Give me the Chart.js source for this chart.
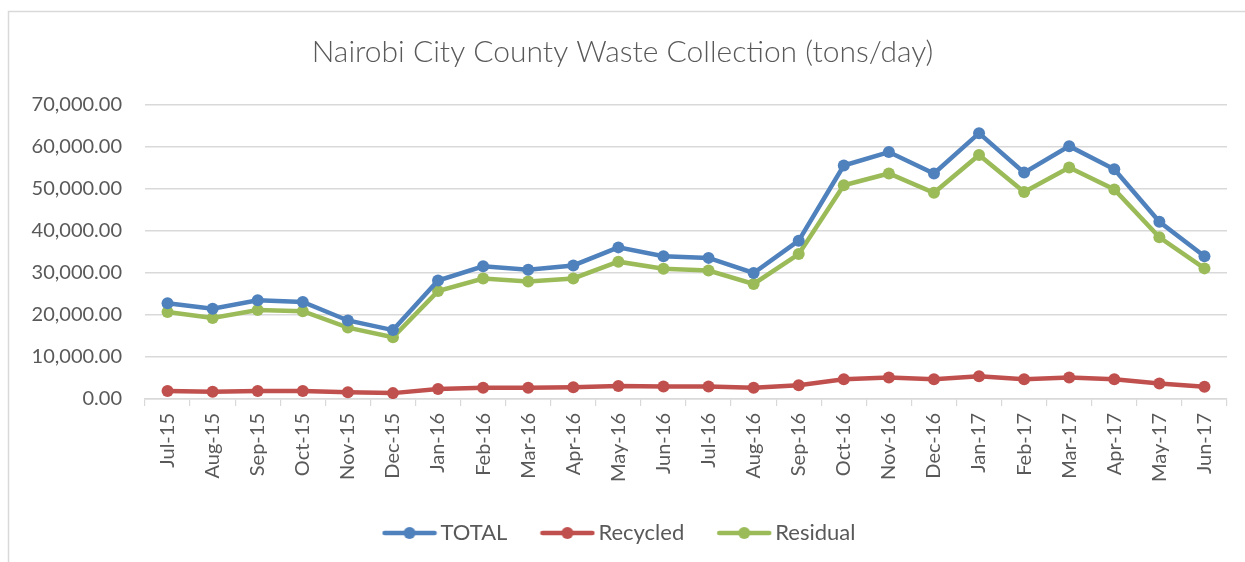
<!DOCTYPE html>
<html>
<head>
<meta charset="utf-8">
<script src="https://cdn.jsdelivr.net/npm/chart.js@4/dist/chart.umd.min.js"></script>
<style>
  html, body { margin: 0; padding: 0; background: #ffffff; }
  #wrap { position: relative; width: 1245px; height: 562px; }
</style>
</head>
<body>
<div id="wrap"><canvas id="c" width="1245" height="562"></canvas></div>
<script>
const months = ["Jul-15","Aug-15","Sep-15","Oct-15","Nov-15","Dec-15","Jan-16","Feb-16","Mar-16","Apr-16","May-16","Jun-16","Jul-16","Aug-16","Sep-16","Oct-16","Nov-16","Dec-16","Jan-17","Feb-17","Mar-17","Apr-17","May-17","Jun-17"];
const total =    [22800,21500,23500,23100,18700,16400,28200,31600,30800,31800,36100,34000,33600,30000,37700,55600,58800,53700,63300,53900,60200,54700,42200,34000];
const recycled = [1900,1700,1900,1900,1600,1400,2400,2700,2700,2800,3100,3000,3000,2700,3300,4700,5100,4700,5400,4700,5100,4700,3700,2900];
const residual = [20700,19300,21200,20900,17000,14700,25700,28700,28000,28700,32700,31000,30600,27400,34500,50900,53700,49100,58100,49300,55100,49900,38500,31100];
const seriesNames = ["TOTAL","Recycled","Residual"];
const seriesColors = ["#4F81BD","#C0504D","#9BBB59"];
const yTicks = [0,10000,20000,30000,40000,50000,60000,70000];

const FONT = "Lato, 'Open Sans', sans-serif";
const TXT = "#595959";

function legendIcon(color) {
  const cv = document.createElement('canvas');
  cv.width = 56; cv.height = 14;
  const g = cv.getContext('2d');
  g.strokeStyle = color; g.lineWidth = 4.5; g.lineCap = 'round';
  g.beginPath(); g.moveTo(3, 7); g.lineTo(53, 7); g.stroke();
  g.fillStyle = color;
  g.beginPath(); g.arc(28, 7, 6, 0, Math.PI * 2); g.fill();
  return cv;
}
const icons = seriesColors.map(legendIcon);

const framePlugin = {
  id: 'frame',
  beforeDraw(chart) {
    const ctx = chart.ctx;
    ctx.save();
    ctx.fillStyle = '#ffffff';
    ctx.fillRect(0, 0, chart.width, chart.height);
    ctx.strokeStyle = '#d9d9d9';
    ctx.lineWidth = 1.5;
    ctx.strokeRect(8.5, 11.5, 2000, 2000);
    ctx.restore();
  }
};

const data = {
  labels: months,
  datasets: [total, recycled, residual].map((arr, i) => ({
    label: seriesNames[i],
    data: arr,
    borderColor: seriesColors[i],
    backgroundColor: seriesColors[i],
    borderWidth: 4.5,
    pointRadius: 6,
    pointHoverRadius: 6,
    pointBorderWidth: 0,
    pointStyle: 'circle',
    tension: 0,
    fill: false
  }))
};

new Chart(document.getElementById('c'), {
  type: 'line',
  data,
  plugins: [framePlugin],
  options: {
    responsive: false,
    animation: false,
    events: [],
    layout: { padding: { left: 18, right: 18, top: 0, bottom: 8 } },
    plugins: {
      tooltip: { enabled: false },
      title: {
        display: true,
        text: 'Nairobi City County Waste Collection (tons/day)',
        color: TXT,
        font: { family: FONT, size: 30, weight: '300', lineHeight: 1.2 },
        padding: { top: 34, bottom: 35 }
      },
      legend: {
        display: true,
        position: 'bottom',
        labels: {
          color: TXT,
          font: { family: FONT, size: 22 },
          usePointStyle: true,
          pointStyleWidth: 40,
          padding: 40,
          generateLabels(chart) {
            return chart.data.datasets.map((ds, i) => ({
              text: ds.label,
              fillStyle: ds.borderColor,
              strokeStyle: ds.borderColor,
              lineWidth: 0,
              pointStyle: icons[i],
              fontColor: TXT,
              hidden: false,
              datasetIndex: i
            }));
          }
        }
      }
    },
    scales: {
      x: {
        type: 'category',
        offset: true,
        grid: {
          offset: true,
          drawOnChartArea: false,
          drawTicks: true,
          tickLength: 7,
          color: '#d9d9d9',
          lineWidth: 1.2
        },
        border: { display: true, color: '#d9d9d9', width: 1.5 },
        ticks: {
          color: TXT,
          font: { family: FONT, size: 20 },
          maxRotation: 90,
          minRotation: 90,
          autoSkip: false,
          padding: 7
        },
        afterFit(scale) { scale.height = 83; }
      },
      y: {
        min: 0,
        max: 70000,
        afterBuildTicks(scale) { scale.ticks = yTicks.map(v => ({ value: v })); },
        grid: { color: '#d9d9d9', lineWidth: 1.5, drawTicks: false },
        border: { display: false },
        ticks: {
          color: TXT,
          font: { family: FONT, size: 20 },
          padding: 23,
          callback(v) {
            return Number(v).toLocaleString('en-US', { minimumFractionDigits: 2, maximumFractionDigits: 2 });
          }
        },
        afterFit(scale) { scale.width = 127; }
      }
    }
  }
});
</script>
</body>
</html>
